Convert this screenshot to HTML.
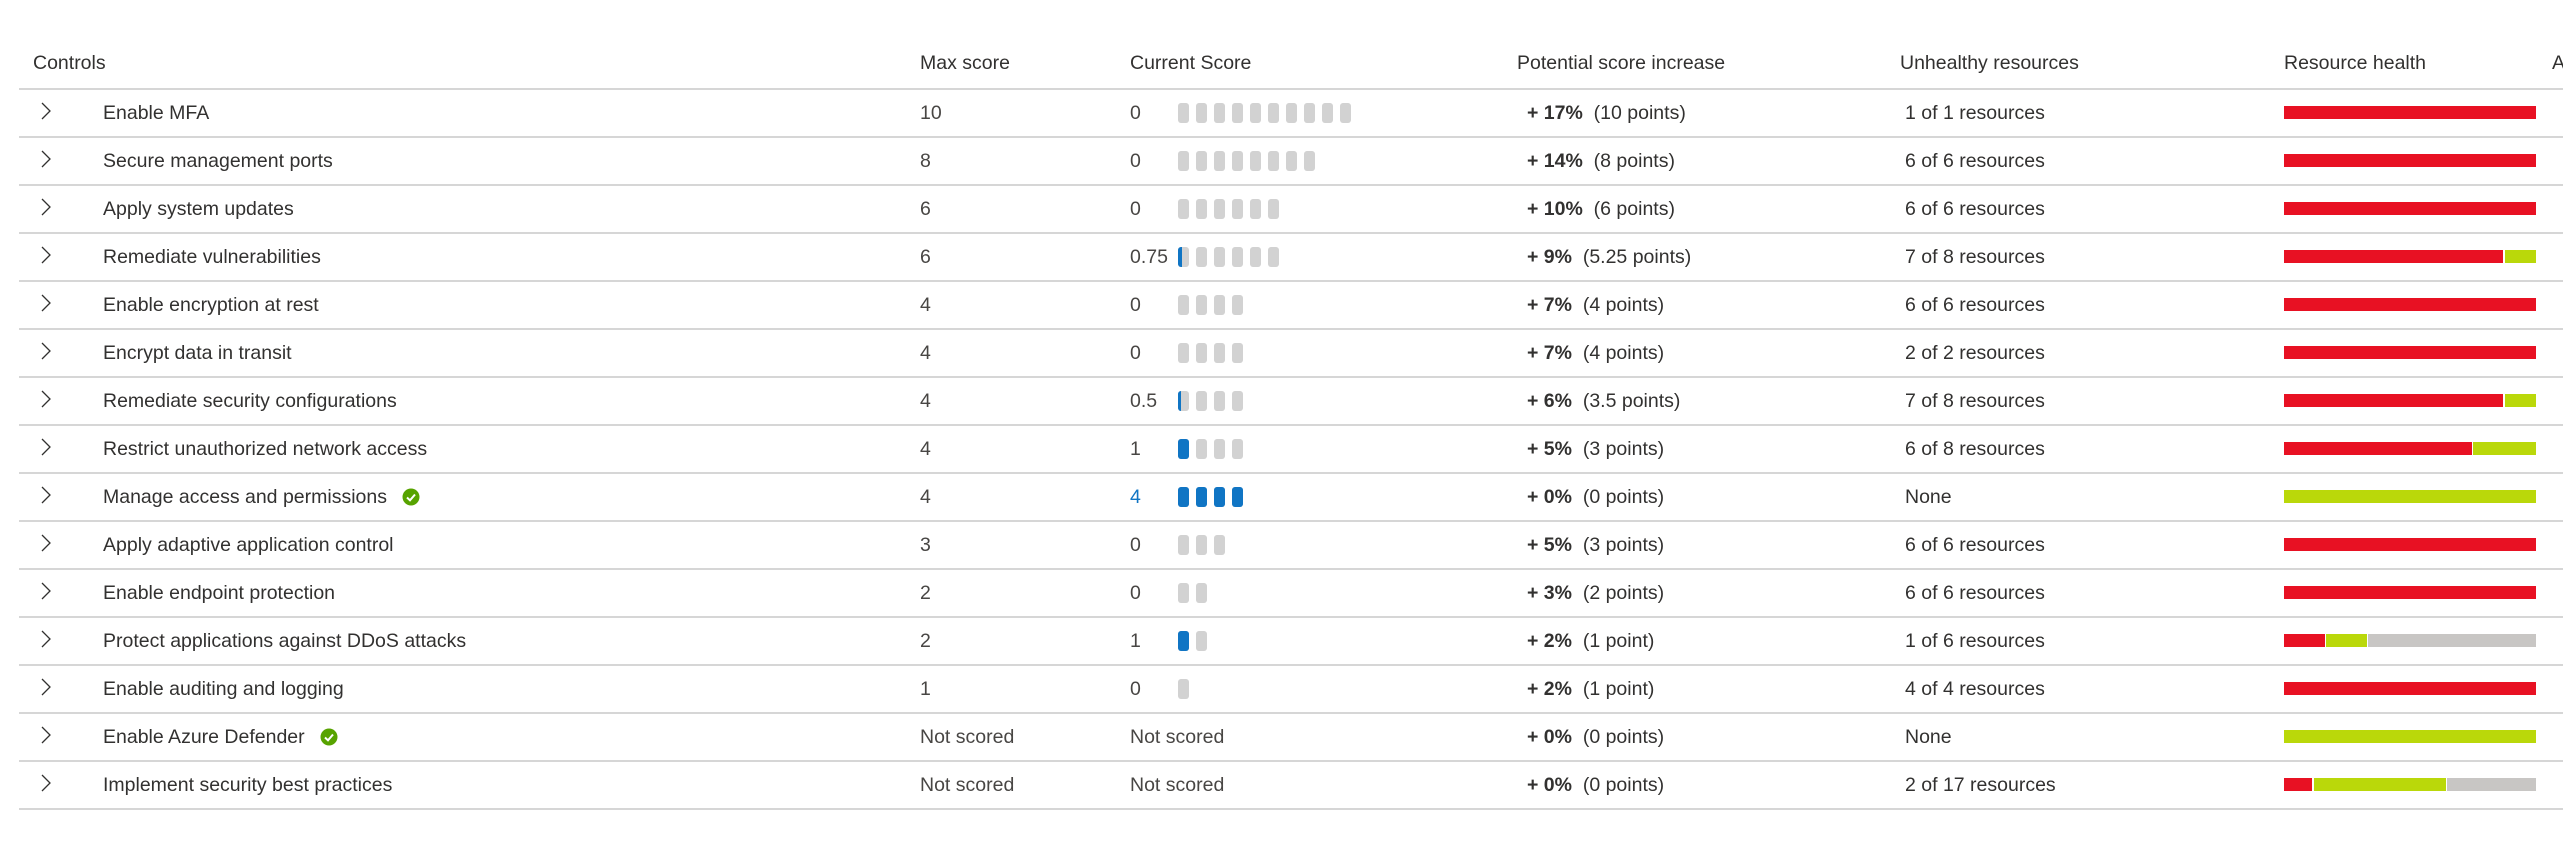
<!DOCTYPE html>
<html><head><meta charset="utf-8">
<style>
body{margin:0;background:#fff;width:2563px;height:853px;overflow:hidden;font-family:"Liberation Sans",sans-serif;color:#323130;}
#t{position:relative;width:2563px;height:853px;}
.a{position:absolute;white-space:nowrap;font-size:19.5px;line-height:24px;}
.line{position:absolute;left:19px;right:0;height:2px;background:#d6d6d6;}
.seg{position:absolute;width:11px;height:20px;border-radius:3px;background:#d2d2d2;overflow:hidden;}
.seg i{position:absolute;left:0;top:0;bottom:0;background:#1075c4;}
.hb{position:absolute;height:13px;}
</style></head><body>
<div id="t">
<div class="a" style="left:33px;top:51px">Controls</div>
<div class="a" style="left:920px;top:51px">Max score</div>
<div class="a" style="left:1130px;top:51px">Current Score</div>
<div class="a" style="left:1517px;top:51px">Potential score increase</div>
<div class="a" style="left:1900px;top:51px">Unhealthy resources</div>
<div class="a" style="left:2284px;top:51px">Resource health</div>
<div class="a" style="left:2552px;top:51px">A</div>
<div class="line" style="top:88px"></div>
</div>
<script>
const names=["Enable MFA","Secure management ports","Apply system updates","Remediate vulnerabilities","Enable encryption at rest","Encrypt data in transit","Remediate security configurations","Restrict unauthorized network access","Manage access and permissions","Apply adaptive application control","Enable endpoint protection","Protect applications against DDoS attacks","Enable auditing and logging","Enable Azure Defender","Implement security best practices"];
const maxScores=[10,8,6,6,4,4,4,4,4,3,2,2,1,null,null];
const currentScores=[0,0,0,0.75,0,0,0.5,1,4,0,0,1,0,null,null];
const pctIncrease=["17%","14%","10%","9%","7%","7%","6%","5%","0%","5%","3%","2%","2%","0%","0%"];
const pointsIncrease=["(10 points)","(8 points)","(6 points)","(5.25 points)","(4 points)","(4 points)","(3.5 points)","(3 points)","(0 points)","(3 points)","(2 points)","(1 point)","(1 point)","(0 points)","(0 points)"];
const unhealthy=["1 of 1 resources","6 of 6 resources","6 of 6 resources","7 of 8 resources","6 of 6 resources","2 of 2 resources","7 of 8 resources","6 of 8 resources","None","6 of 6 resources","6 of 6 resources","1 of 6 resources","4 of 4 resources","None","2 of 17 resources"];
const healthRed=[1,6,6,7,6,2,7,6,0,6,6,1,4,0,2];
const healthGreen=[0,0,0,1,0,0,1,2,4,0,0,1,0,1,9];
const healthGray=[0,0,0,0,0,0,0,0,0,0,0,4,0,0,6];
const checked=[false,false,false,false,false,false,false,false,true,false,false,false,false,true,false];

const T=document.getElementById('t');
function add(cls,css,html,name,inter){const d=document.createElement('div');d.className=cls;d.style.cssText=css;if(html!=null)d.innerHTML=html;


T.appendChild(d);return d;}
const rowY=i=>113+48*i;
const barX=2284,barW=252;
names.forEach((n,i)=>{
  const cy=rowY(i),ty=cy-12;
  const chev=add('a',`left:40px;top:${cy-13}px;font-size:22px;color:#323130`,'<svg width="12" height="22"><path d="M2 3 L10 11 L2 19" fill="none" stroke="#323130" stroke-width="1.3"/></svg>','expand-chevron',true);
  const nm=add('a',`left:103px;top:${ty}px`,n,'control-name',true);
  if(checked[i]){
    const w=nm.getBoundingClientRect().width;
    add('a',`left:${103+w+15}px;top:${cy-9}px;width:18px;height:18px`,'<svg width="18" height="18"><circle cx="9" cy="9" r="8.5" fill="#57a300"/><path d="M5 9.5 L8 12.3 L13 6.5" fill="none" stroke="#fff" stroke-width="2"/></svg>','healthy-check-icon',false);
  }
  add('a',`left:920px;top:${ty}px;color:#484644`,maxScores[i]==null?'Not scored':maxScores[i],'max-score',false);
  const cs=currentScores[i];
  add('a',`left:1130px;top:${ty}px;color:${cs>=maxScores[i]&&cs>0?'#1075c4':'#484644'}`,cs==null?'Not scored':cs,'current-score',false);
  if(maxScores[i]!=null){
    for(let k=0;k<maxScores[i];k++){
      const f=Math.max(0,Math.min(1,cs-k));
      add('seg',`left:${1178+18*k}px;top:${cy-10}px`,f>0?`<i style="width:${f<1?Math.max(3,f*5):11}px"></i>`:'','score-segment',false);
    }
  }
  add('a',`left:1527px;top:${ty}px`,`<b>+ ${pctIncrease[i]}</b>&nbsp; ${pointsIncrease[i]}`,'potential-increase',false);
  add('a',`left:1905px;top:${ty}px`,unhealthy[i],'unhealthy-resources',false);
  const tot=healthRed[i]+healthGreen[i]+healthGray[i];
  let x=barX;
  [[healthRed[i],'#e81123','health-bar-unhealthy'],[healthGreen[i],'#bad80a','health-bar-healthy'],[healthGray[i],'#c8c6c4','health-bar-not-applicable']].forEach(([v,c,nmn])=>{
    if(!v)return;const w=barW*v/tot;
    add('hb',`left:${x}px;top:${cy-7}px;width:${w-(x+w<barX+barW-1?1.5:0)}px;background:${c}`,null,nmn,false);
    x+=w;
  });
  add('line',`top:${cy+23}px`,null,'row-divider',false);
});
</script>
</body></html>
